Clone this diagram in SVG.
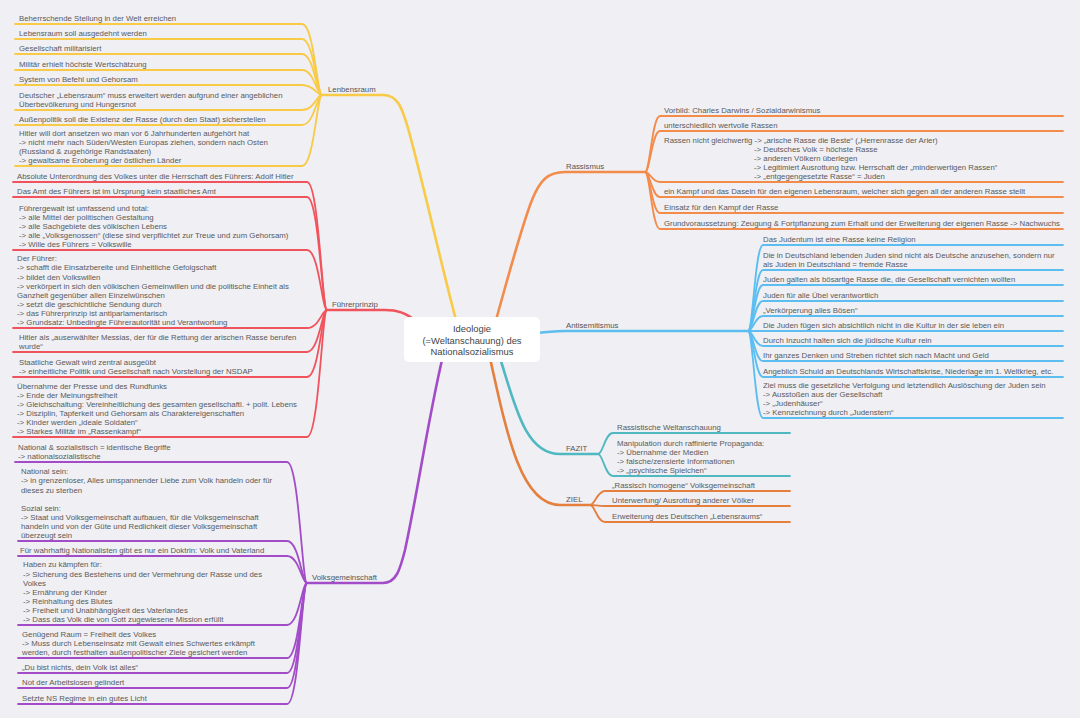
<svg xmlns="http://www.w3.org/2000/svg" width="1080" height="718" viewBox="0 0 1080 718">
<defs><style>
.bg{fill:#EFEFF4}
text{font-family:"Liberation Sans",Arial,sans-serif;font-size:7.8px;fill:#5a5a5a}
.c{fill:none;stroke-linecap:round;stroke-linejoin:round}
.m{stroke-width:2.6}
.s{stroke-width:1.8}
.y{stroke:#F8CA46}
.r{stroke:#F1535C}
.p{stroke:#A24CC8}
.o{stroke:#F38B4B}
.b{stroke:#5CBEF0}
.tl{stroke:#4FB8C0}
.z{stroke:#E47F3E}
.ctr{font-size:9.4px;fill:#444;text-anchor:middle}
.lbl{fill:#555}
</style></defs>
<rect class="bg" x="0" y="0" width="1080" height="718"/>
<g id="connectors">
<!-- main branches -->
<path class="c m y" d="M322,95 H383 C398,95 402,108 408,128 C425,190 440,260 456,320"/>
<path class="c m r" d="M327,310 H385 C398,310 405,313 415,320"/>
<path class="c m p" d="M307,583 H383 C396,583 400,570 405,550 C418,490 428,420 442,360"/>
<path class="c m o" d="M496,320 C510,270 522,225 532,200 C540,180 548,172 565,172 H645"/>
<path class="c m b" d="M530,334 C545,332 552,331 565,331 H748"/>
<path class="c m tl" d="M500,358 C515,405 525,454 560,454 H598"/>
<path class="c m z" d="M490,358 C508,440 522,505 560,505 H590"/>
<!-- Lebensraum children -->
<path class="c s y" d="M322,95 C317,95 314,24 302,24 H15"/>
<path class="c s y" d="M322,95 C317,95 314,39 302,39 H15"/>
<path class="c s y" d="M322,95 C317,95 314,54 302,54 H15"/>
<path class="c s y" d="M322,95 C317,95 314,70 302,70 H15"/>
<path class="c s y" d="M322,95 C317,95 314,85 302,85 H15"/>
<path class="c s y" d="M322,95 C317,95 314,110 302,110 H15"/>
<path class="c s y" d="M322,95 C317,95 314,125 302,125 H15"/>
<path class="c s y" d="M322,95 C317,95 314,166 302,166 H15"/>
<!-- Fuehrerprinzip children -->
<path class="c s r" d="M327,310 C322,310 319,182 307,182 H13"/>
<path class="c s r" d="M327,310 C322,310 319,197 307,197 H13"/>
<path class="c s r" d="M327,310 C322,310 319,250 307,250 H13"/>
<path class="c s r" d="M327,310 C322,310 319,328 307,328 H13"/>
<path class="c s r" d="M327,310 C322,310 319,352 307,352 H13"/>
<path class="c s r" d="M327,310 C322,310 319,377 307,377 H13"/>
<path class="c s r" d="M327,310 C322,310 319,437 307,437 H13"/>
<!-- Volksgemeinschaft children -->
<path class="c s p" d="M307,583 C302,583 299,462 287,462 H15"/>
<path class="c s p" d="M307,583 C302,583 299,541 287,541 H18"/>
<path class="c s p" d="M307,583 C302,583 299,556 287,556 H18"/>
<path class="c s p" d="M307,583 C302,583 299,625 287,625 H18"/>
<path class="c s p" d="M307,583 C302,583 299,658 287,658 H18"/>
<path class="c s p" d="M307,583 C302,583 299,673 287,673 H18"/>
<path class="c s p" d="M307,583 C302,583 299,688 287,688 H18"/>
<path class="c s p" d="M307,583 C302,583 299,704 287,704 H18"/>
<!-- Rassismus children -->
<path class="c s o" d="M645,172 C650,172 652,116 660,116 H1063"/>
<path class="c s o" d="M645,172 C650,172 652,131 660,131 H1063"/>
<path class="c s o" d="M645,172 C650,172 652,182 660,182 H1063"/>
<path class="c s o" d="M645,172 C650,172 652,197 660,197 H1063"/>
<path class="c s o" d="M645,172 C650,172 652,213 660,213 H1063"/>
<path class="c s o" d="M645,172 C650,172 652,229 660,229 H1063"/>
<!-- Antisemitismus children -->
<path class="c s b" d="M748,331 C753,331 755,245 763,245 H1063"/>
<path class="c s b" d="M748,331 C753,331 755,270 763,270 H1063"/>
<path class="c s b" d="M748,331 C753,331 755,285 763,285 H1063"/>
<path class="c s b" d="M748,331 C753,331 755,301 763,301 H1063"/>
<path class="c s b" d="M748,331 C753,331 755,316 763,316 H1063"/>
<path class="c s b" d="M748,331 H1063"/>
<path class="c s b" d="M748,331 C753,331 755,346 763,346 H1063"/>
<path class="c s b" d="M748,331 C753,331 755,361 763,361 H1063"/>
<path class="c s b" d="M748,331 C753,331 755,377 763,377 H1063"/>
<path class="c s b" d="M748,331 C753,331 755,418 763,418 H1063"/>
<!-- FAZIT children -->
<path class="c s tl" d="M598,454 C603,454 605,433 613,433 H790"/>
<path class="c s tl" d="M598,454 C603,454 605,476 613,476 H790"/>
<!-- ZIEL children -->
<path class="c s z" d="M590,505 C595,505 597,491 605,491 H790"/>
<path class="c s z" d="M590,505 C595,505 597,506 605,506 H790"/>
<path class="c s z" d="M590,505 C595,505 597,522 605,522 H790"/>
</g>

<g id="center">
<rect x="404" y="317" width="136" height="45" rx="5" fill="#ffffff"/>
<text class="ctr" x="472" y="332">Ideologie</text>
<text class="ctr" x="472" y="343.5">(=Weltanschauung) des</text>
<text class="ctr" x="472" y="355">Nationalsozialismus</text>
</g>

<g id="lebensraum"><text class="lbl" x="328" y="92">Lenbensraum</text></g>
<g id="lr1"><text x="19" y="21">Beherrschende Stellung in der Welt erreichen</text></g>
<g id="lr2"><text x="19" y="36">Lebensraum soll ausgedehnt werden</text></g>
<g id="lr3"><text x="19" y="51">Gesellschaft militarisiert</text></g>
<g id="lr4"><text x="19" y="67">Militär erhielt höchste Wertschätzung</text></g>
<g id="lr5"><text x="19" y="82">System von Befehl und Gehorsam</text></g>
<g id="lr6"><text x="19" y="98">Deutscher „Lebensraum“ muss erweitert werden aufgrund einer angeblichen<tspan x="19" dy="9.1">Überbevölkerung und Hungersnot</tspan></text></g>
<g id="lr7"><text x="19" y="122">Außenpolitik soll die Existenz der Rasse (durch den Staat) sicherstellen</text></g>
<g id="lr8"><text x="19" y="135.7">Hitler will dort ansetzen wo man vor 6 Jahrhunderten aufgehört hat<tspan x="19" dy="9.1">-&gt; nicht mehr nach Süden/Westen Europas ziehen, sondern nach Osten</tspan><tspan x="19" dy="9.1">(Russland &amp; zugehörige Randstaaten)</tspan><tspan x="19" dy="9.1">-&gt; gewaltsame Eroberung der östlichen Länder</tspan></text></g>

<g id="fuehrerprinzip"><text class="lbl" x="332" y="307">Führerprinzip</text></g>
<g id="fp1"><text x="17" y="179">Absolute Unterordnung des Volkes unter die Herrschaft des Führers: Adolf Hitler</text></g>
<g id="fp2"><text x="17" y="194">Das Amt des Führers ist im Ursprung kein staatliches Amt</text></g>
<g id="fp3"><text x="19" y="210.6">Führergewalt ist umfassend und total:<tspan x="19" dy="9.1">-&gt; alle Mittel der politischen Gestaltung</tspan><tspan x="19" dy="9.1">-&gt; alle Sachgebiete des völkischen Lebens</tspan><tspan x="19" dy="9.1">-&gt; alle „Volksgenossen“ (diese sind verpflichtet zur Treue und zum Gehorsam)</tspan><tspan x="19" dy="9.1">-&gt; Wille des Führers = Volkswille</tspan></text></g>
<g id="fp4"><text x="17" y="261.3">Der Führer:<tspan x="17" dy="9.1">-&gt; schafft die Einsatzbereite und Einheitliche Gefolgschaft</tspan><tspan x="17" dy="9.1">-&gt; bildet den Volkswillen</tspan><tspan x="17" dy="9.1">-&gt; verkörpert in sich den völkischen Gemeinwillen und die politische Einheit als</tspan><tspan x="17" dy="9.1">Ganzheit gegenüber allen Einzelwünschen</tspan><tspan x="17" dy="9.1">-&gt; setzt die geschichtliche Sendung durch</tspan><tspan x="17" dy="9.1">-&gt; das Führerprinzip ist antiparlamentarisch</tspan><tspan x="17" dy="9.1">-&gt; Grundsatz: Unbedingte Führerautorität und Verantwortung</tspan></text></g>
<g id="fp5"><text x="19" y="339.9">Hitler als „auserwählter Messias, der für die Rettung der arischen Rasse berufen<tspan x="19" dy="9.1">wurde“</tspan></text></g>
<g id="fp6"><text x="19" y="364.9">Staatliche Gewalt wird zentral ausgeübt<tspan x="19" dy="9.1">-&gt; einheitliche Politik und Gesellschaft nach Vorstellung der NSDAP</tspan></text></g>
<g id="fp7"><text x="17" y="388.5">Übernahme der Presse und des Rundfunks<tspan x="17" dy="9.1">-&gt; Ende der Meinungsfreiheit</tspan><tspan x="17" dy="9.1">-&gt; Gleichschaltung: Vereinheitlichung des gesamten gesellschaftl. + polit. Lebens</tspan><tspan x="17" dy="9.1">-&gt; Disziplin, Tapferkeit und Gehorsam als Charaktereigenschaften</tspan><tspan x="17" dy="9.1">-&gt; Kinder werden „ideale Soldaten“</tspan><tspan x="17" dy="9.1">-&gt; Starkes Militär im „Rassenkampf“</tspan></text></g>

<g id="volksgemeinschaft"><text class="lbl" x="312" y="580">Volksgemeinschaft</text></g>
<g id="vg1"><text x="18" y="449.9">National &amp; sozialistisch = identische Begriffe<tspan x="18" dy="9.1">-&gt; nationalsozialistische</tspan></text></g>
<g id="vg2"><text x="21" y="474.3">National sein:<tspan x="21" dy="9.1">-&gt; in grenzenloser, Alles umspannender Liebe zum Volk handeln oder für</tspan><tspan x="21" dy="9.1">dieses zu sterben</tspan><tspan x="21" dy="18.2">Sozial sein:</tspan><tspan x="21" dy="9.1">-&gt; Staat und Volksgemeinschaft aufbauen, für die Volksgemeinschaft</tspan><tspan x="21" dy="9.1">handeln und von der Güte und Redlichkeit dieser Volksgemeinschaft</tspan><tspan x="21" dy="9.1">überzeugt sein</tspan></text></g>
<g id="vg3"><text x="20" y="553">Für wahrhaftig Nationalisten gibt es nur ein Doktrin: Volk und Vaterland</text></g>
<g id="vg4"><text x="23" y="567.4">Haben zu kämpfen für:<tspan x="23" dy="9.1">-&gt; Sicherung des Bestehens und der Vermehrung der Rasse und des</tspan><tspan x="23" dy="9.1">Volkes</tspan><tspan x="23" dy="9.1">-&gt; Ernährung der Kinder</tspan><tspan x="23" dy="9.1">-&gt; Reinhaltung des Blutes</tspan><tspan x="23" dy="9.1">-&gt; Freiheit und Unabhängigkeit des Vaterlandes</tspan><tspan x="23" dy="9.1">-&gt; Dass das Volk die von Gott zugewiesene Mission erfüllt</tspan></text></g>
<g id="vg5"><text x="22" y="636.8">Genügend Raum = Freiheit des Volkes<tspan x="22" dy="9.1">-&gt; Muss durch Lebenseinsatz mit Gewalt eines Schwertes erkämpft</tspan><tspan x="22" dy="9.1">werden, durch festhalten außenpolitischer Ziele gesichert werden</tspan></text></g>
<g id="vg6"><text x="22" y="670">„Du bist nichts, dein Volk ist alles“</text></g>
<g id="vg7"><text x="22" y="685">Not der Arbeitslosen gelindert</text></g>
<g id="vg8"><text x="22" y="701">Setzte NS Regime in ein gutes Licht</text></g>

<g id="rassismus"><text class="lbl" x="566" y="169">Rassismus</text></g>
<g id="ra1"><text x="664" y="113">Vorbild: Charles Darwins / Sozialdarwinismus</text></g>
<g id="ra2"><text x="664" y="128">unterschiedlich wertvolle Rassen</text></g>
<g id="ra3"><text x="664" y="142.6">Rassen nicht gleichwertig -&gt; „arische Rasse die Beste“ („Herrenrasse der Arier)<tspan x="754" dy="9.1">-&gt; Deutsches Volk = höchste Rasse</tspan><tspan x="754" dy="9.1">-&gt; anderen Völkern überlegen</tspan><tspan x="754" dy="9.1">-&gt; Legitimiert Ausrottung bzw. Herrschaft der „minderwertigen Rassen“</tspan><tspan x="754" dy="9.1">-&gt; „entgegengesetzte Rasse“ = Juden</tspan></text></g>
<g id="ra4"><text x="664" y="194">ein Kampf und das Dasein für den eigenen Lebensraum, welcher sich gegen all der anderen Rasse stellt</text></g>
<g id="ra5"><text x="664" y="210">Einsatz für den Kampf der Rasse</text></g>
<g id="ra6"><text x="664" y="226">Grundvoraussetzung: Zeugung &amp; Fortpflanzung zum Erhalt und der Erweiterung der eigenen Rasse -&gt; Nachwuchs</text></g>

<g id="antisemitismus"><text class="lbl" x="566" y="328">Antisemitismus</text></g>
<g id="as1"><text x="763" y="242">Das Judentum ist eine Rasse keine Religion</text></g>
<g id="as2"><text x="763" y="257.9">Die in Deutschland lebenden Juden sind nicht als Deutsche anzusehen, sondern nur<tspan x="763" dy="9.1">als Juden in Deutschland = fremde Rasse</tspan></text></g>
<g id="as3"><text x="763" y="282">Juden galten als bösartige Rasse die, die Gesellschaft vernichten wollten</text></g>
<g id="as4"><text x="763" y="298">Juden für alle Übel verantwortlich</text></g>
<g id="as5"><text x="763" y="313">„Verkörperung alles Bösen“</text></g>
<g id="as6"><text x="763" y="328">Die Juden fügen sich absichtlich nicht in die Kultur in der sie leben ein</text></g>
<g id="as7"><text x="763" y="343">Durch Inzucht halten sich die jüdische Kultur rein</text></g>
<g id="as8"><text x="763" y="358">Ihr ganzes Denken und Streben richtet sich nach Macht und Geld</text></g>
<g id="as9"><text x="763" y="374">Angeblich Schuld an Deutschlands Wirtschaftskrise, Niederlage im 1. Weltkrieg, etc.</text></g>
<g id="as10"><text x="763" y="387.7">Ziel muss die gesetzliche Verfolgung und letztendlich Auslöschung der Juden sein<tspan x="763" dy="9.1">-&gt; Ausstoßen aus der Gesellschaft</tspan><tspan x="763" dy="9.1">-&gt; „Judenhäuser“</tspan><tspan x="763" dy="9.1">-&gt; Kennzeichnung durch „Judenstern“</tspan></text></g>

<g id="fazit"><text class="lbl" x="566" y="451">FAZIT</text></g>
<g id="fz1"><text x="617" y="430">Rassistische Weltanschauung</text></g>
<g id="fz2"><text x="617" y="445.7">Manipulation durch raffinierte Propaganda:<tspan x="617" dy="9.1">-&gt; Übernahme der Medien</tspan><tspan x="617" dy="9.1">-&gt; falsche/zensierte Informationen</tspan><tspan x="617" dy="9.1">-&gt; „psychische Spielchen“</tspan></text></g>

<g id="ziel"><text class="lbl" x="566" y="502">ZIEL</text></g>
<g id="zl1"><text x="612" y="488">„Rassisch homogene“ Volksgemeinschaft</text></g>
<g id="zl2"><text x="612" y="503">Unterwerfung/ Ausrottung anderer Völker</text></g>
<g id="zl3"><text x="612" y="519">Erweiterung des Deutschen „Lebensraums“</text></g>
</svg>
